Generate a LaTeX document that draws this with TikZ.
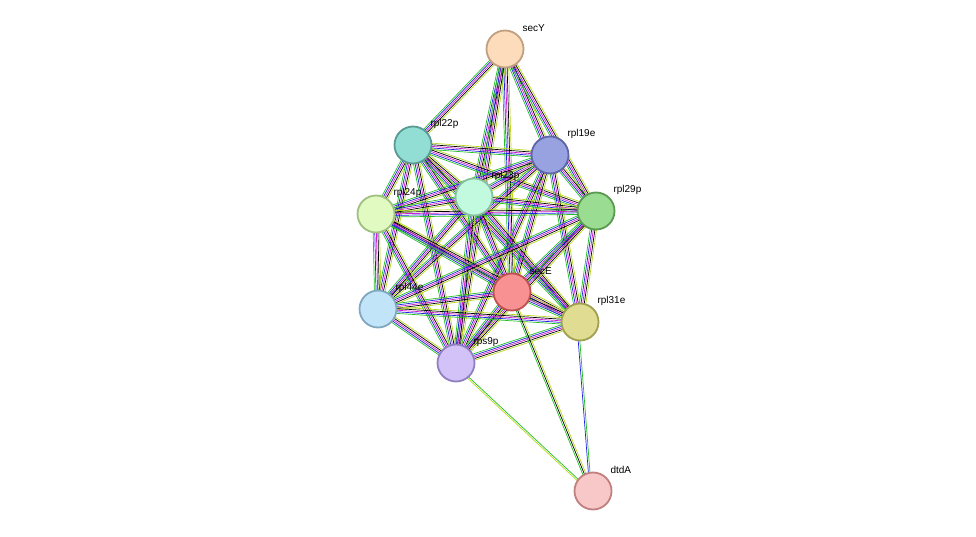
\documentclass[tikz,border=0pt]{standalone}
\usepackage{fontspec}
\setmainfont{Liberation Sans}
\usetikzlibrary{calc}
\definecolor{lgreen}{HTML}{22C022}
\definecolor{lblue}{HTML}{2020E0}
\definecolor{lmag}{HTML}{D020D0}
\definecolor{lyel}{HTML}{B8D820}
\definecolor{fsecY}{HTML}{FDDCBC}\definecolor{dsecY}{HTML}{C0A080}
\definecolor{frpl22p}{HTML}{92DED4}\definecolor{drpl22p}{HTML}{5A9A95}
\definecolor{frpl19e}{HTML}{98A2E0}\definecolor{drpl19e}{HTML}{5E66A8}
\definecolor{frpl23p}{HTML}{C2FAE0}\definecolor{drpl23p}{HTML}{88C0A0}
\definecolor{frpl24p}{HTML}{E0FAC2}\definecolor{drpl24p}{HTML}{A0C080}
\definecolor{frpl29p}{HTML}{9ADD92}\definecolor{drpl29p}{HTML}{5A9A50}
\definecolor{fsecE}{HTML}{F89292}\definecolor{dsecE}{HTML}{C05050}
\definecolor{frpl44e}{HTML}{C2E4F8}\definecolor{drpl44e}{HTML}{80A8C0}
\definecolor{frpl31e}{HTML}{E0DC92}\definecolor{drpl31e}{HTML}{A0A050}
\definecolor{frps9p}{HTML}{D2C2F8}\definecolor{drps9p}{HTML}{9080C0}
\definecolor{fdtdA}{HTML}{F8C8C8}\definecolor{ddtdA}{HTML}{C08080}
\newcommand\bund[3]{%
  \foreach \c [count=\k] in {#3} {
    \pgfmathsetmacro\off{(\k-3)*1.6}
    \draw[\c, line width=0.7pt] ($(#1)!\off pt!90:(#2)$) -- ($(#2)!\off pt!-90:(#1)$);
  }}
\begin{document}
\begin{tikzpicture}[x=1pt, y=-1pt,
    prot/.style={circle, draw=d#1, fill=f#1, line width=1.8pt, minimum size=37pt, inner sep=0pt},
    lbl/.style={font=\fontsize{10}{12}\selectfont, anchor=west}
]
\useasboundingbox (0,0) rectangle (976,537);

% proteins (coordinates only, drawn after the edges)
\coordinate (secY) at (505,49);
\coordinate (rpl22p) at (413,145);
\coordinate (rpl19e) at (550,155);
\coordinate (rpl23p) at (474,197);
\coordinate (rpl24p) at (376,214);
\coordinate (rpl29p) at (596,211);
\coordinate (secE) at (512,292);
\coordinate (rpl44e) at (378,309);
\coordinate (rpl31e) at (580,322);
\coordinate (rps9p) at (456,363);
\coordinate (dtdA) at (593,491);

% evidence bundles
\foreach \a/\b in {secY/rpl22p, secY/rpl19e, secY/rpl23p, secY/rpl29p, secY/secE, secY/rps9p,
    rpl22p/rpl19e, rpl22p/rpl23p, rpl22p/rpl24p, rpl22p/rpl29p, rpl22p/secE, rpl22p/rpl44e, rpl22p/rpl31e, rpl22p/rps9p,
    rpl19e/rpl23p, rpl19e/rpl24p, rpl19e/rpl29p, rpl19e/secE, rpl19e/rpl44e, rpl19e/rpl31e, rpl19e/rps9p,
    rpl23p/rpl24p, rpl23p/rpl29p, rpl23p/secE, rpl23p/rpl44e, rpl23p/rpl31e, rpl23p/rps9p,
    rpl24p/rpl29p, rpl24p/secE, rpl24p/rpl44e, rpl24p/rpl31e, rpl24p/rps9p,
    rpl29p/secE, rpl29p/rpl44e, rpl29p/rpl31e, rpl29p/rps9p,
    secE/rpl44e, secE/rpl31e, secE/rps9p,
    rpl44e/rpl31e, rpl44e/rps9p, rpl31e/rps9p} {
  \bund{\a}{\b}{lgreen,lblue,lmag,black,lyel}
}
\bund{secE}{dtdA}{lgreen,black,lyel}
\bund{rpl31e}{dtdA}{lblue,lgreen}
\bund{rps9p}{dtdA}{lyel,lgreen}

% nodes and labels
\foreach \n in {secY, rpl22p, rpl19e, rpl23p, rpl24p, rpl29p, secE, rpl44e, rpl31e, rps9p, dtdA} {
  \node[prot=\n] (n\n) at (\n) {};
  \node[lbl] (l\n) at ($(\n)+(14,-21)$) {\n};
}
\end{tikzpicture}
\end{document}
